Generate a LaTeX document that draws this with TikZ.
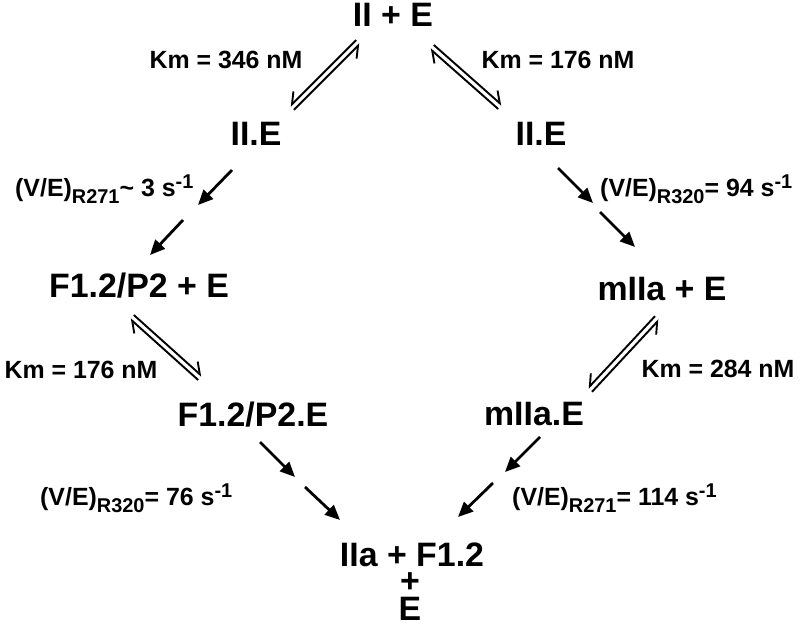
\documentclass[tikz,border=0pt]{standalone}
\usepackage{fontspec}
\setmainfont{Liberation Sans}
\usetikzlibrary{arrows.meta,calc}
\tikzset{
  main/.style={font=\fontsize{34}{36}\selectfont\bfseries, inner sep=0pt, anchor=base, text height=24bp, text depth=0bp},
  lab/.style={font=\fontsize{25}{28}\selectfont\bfseries, inner sep=0pt},
  rxn/.style={line width=2.8bp, -{Triangle[length=15bp,width=13bp]}},
  eqline/.style={line width=1.9bp},
  barbL/.style={-{Straight Barb[left,length=10bp,width=16bp]}},
  barbR/.style={-{Straight Barb[right,length=10bp,width=16bp]}},
}
\newcommand\lsub[1]{\raisebox{-7bp}{\fontsize{20}{20}\selectfont #1}}
\newcommand\lsup[1]{\raisebox{8bp}{\fontsize{20}{20}\selectfont #1}}
\newcommand\eqleft[2]{%
  \draw[eqline,barbL] ($(#1)!2.7bp!90:(#2)$) -- ($(#2)!2.7bp!-90:(#1)$);
  \draw[eqline,barbL] ($(#2)!2.7bp!90:(#1)$) -- ($(#1)!2.7bp!-90:(#2)$);
}
\newcommand\eqright[2]{%
  \draw[eqline,barbR] ($(#1)!2.7bp!-90:(#2)$) -- ($(#2)!2.7bp!90:(#1)$);
  \draw[eqline,barbR] ($(#2)!2.7bp!-90:(#1)$) -- ($(#1)!2.7bp!90:(#2)$);
}
\begin{document}
\begin{tikzpicture}[x=1bp,y=-1bp]
\useasboundingbox (0,0) rectangle (800,627);
% species
\node[main] (top) at (393,27) {II + E};
\node[main] (iieL) at (256,146) {II.E};
\node[main] (iieR) at (541,146) {II.E};
\node[main] (f12p2) at (139,297) {F1.2/P2 + E};
\node[main] (miia) at (662,300) {mIIa + E};
\node[main] (f12p2e) at (253,426) {F1.2/P2.E};
\node[main] (miiae) at (534,425) {mIIa.E};
\node[main] (prod) at (412,566) {IIa + F1.2};
\node[main, text height=14bp] (plus) at (410,592) {+};
\node[main, text height=21bp] (eb) at (410,620) {E};
% labels
\node[lab, anchor=base] (km1) at (226,69) {Km = 346 nM};
\node[lab, anchor=base] (km2) at (558,69) {Km = 176 nM};
\node[lab, anchor=base west] (ve1) at (15,197) {(V/E)\lsub{R271}\textasciitilde{} 3 s\lsup{-1}};
\node[lab, anchor=base west] (ve2) at (600,197) {(V/E)\lsub{R320}= 94 s\lsup{-1}};
\node[lab, anchor=base] (km3) at (81,378) {Km = 176 nM};
\node[lab, anchor=base] (km4) at (718,377) {Km = 284 nM};
\node[lab, anchor=base west] (ve3) at (40,505) {(V/E)\lsub{R320}= 76 s\lsup{-1}};
\node[lab, anchor=base west] (ve4) at (512,505) {(V/E)\lsub{R271}= 114 s\lsup{-1}};
% equilibrium arrow ends
\coordinate (e1a) at (292,108); \coordinate (e1b) at (358,42);
\coordinate (e2a) at (500,107); \coordinate (e2b) at (432,47);
\coordinate (e3a) at (200,378); \coordinate (e3b) at (132,317);
\coordinate (e4a) at (590,390); \coordinate (e4b) at (657,318);
\eqright{e1a}{e1b}
\eqleft{e2a}{e2b}
\eqleft{e3a}{e3b}
\eqright{e4a}{e4b}
% reaction arrow ends
\coordinate (r1a) at (232,170); \coordinate (r1b) at (198,205);
\coordinate (r1c) at (183,220); \coordinate (r1d) at (150,255);
\coordinate (r2a) at (558,168); \coordinate (r2b) at (593,203);
\coordinate (r2c) at (600,212); \coordinate (r2d) at (635,247);
\coordinate (r3a) at (260,442); \coordinate (r3b) at (295,477);
\coordinate (r3c) at (305,487); \coordinate (r3d) at (340,520);
\coordinate (r4a) at (540,437); \coordinate (r4b) at (505,472);
\coordinate (r4c) at (493,483); \coordinate (r4d) at (458,517);
\draw[rxn] (r1a) -- (r1b);
\draw[rxn] (r1c) -- (r1d);
\draw[rxn] (r2a) -- (r2b);
\draw[rxn] (r2c) -- (r2d);
\draw[rxn] (r3a) -- (r3b);
\draw[rxn] (r3c) -- (r3d);
\draw[rxn] (r4a) -- (r4b);
\draw[rxn] (r4c) -- (r4d);
\end{tikzpicture}
\end{document}
